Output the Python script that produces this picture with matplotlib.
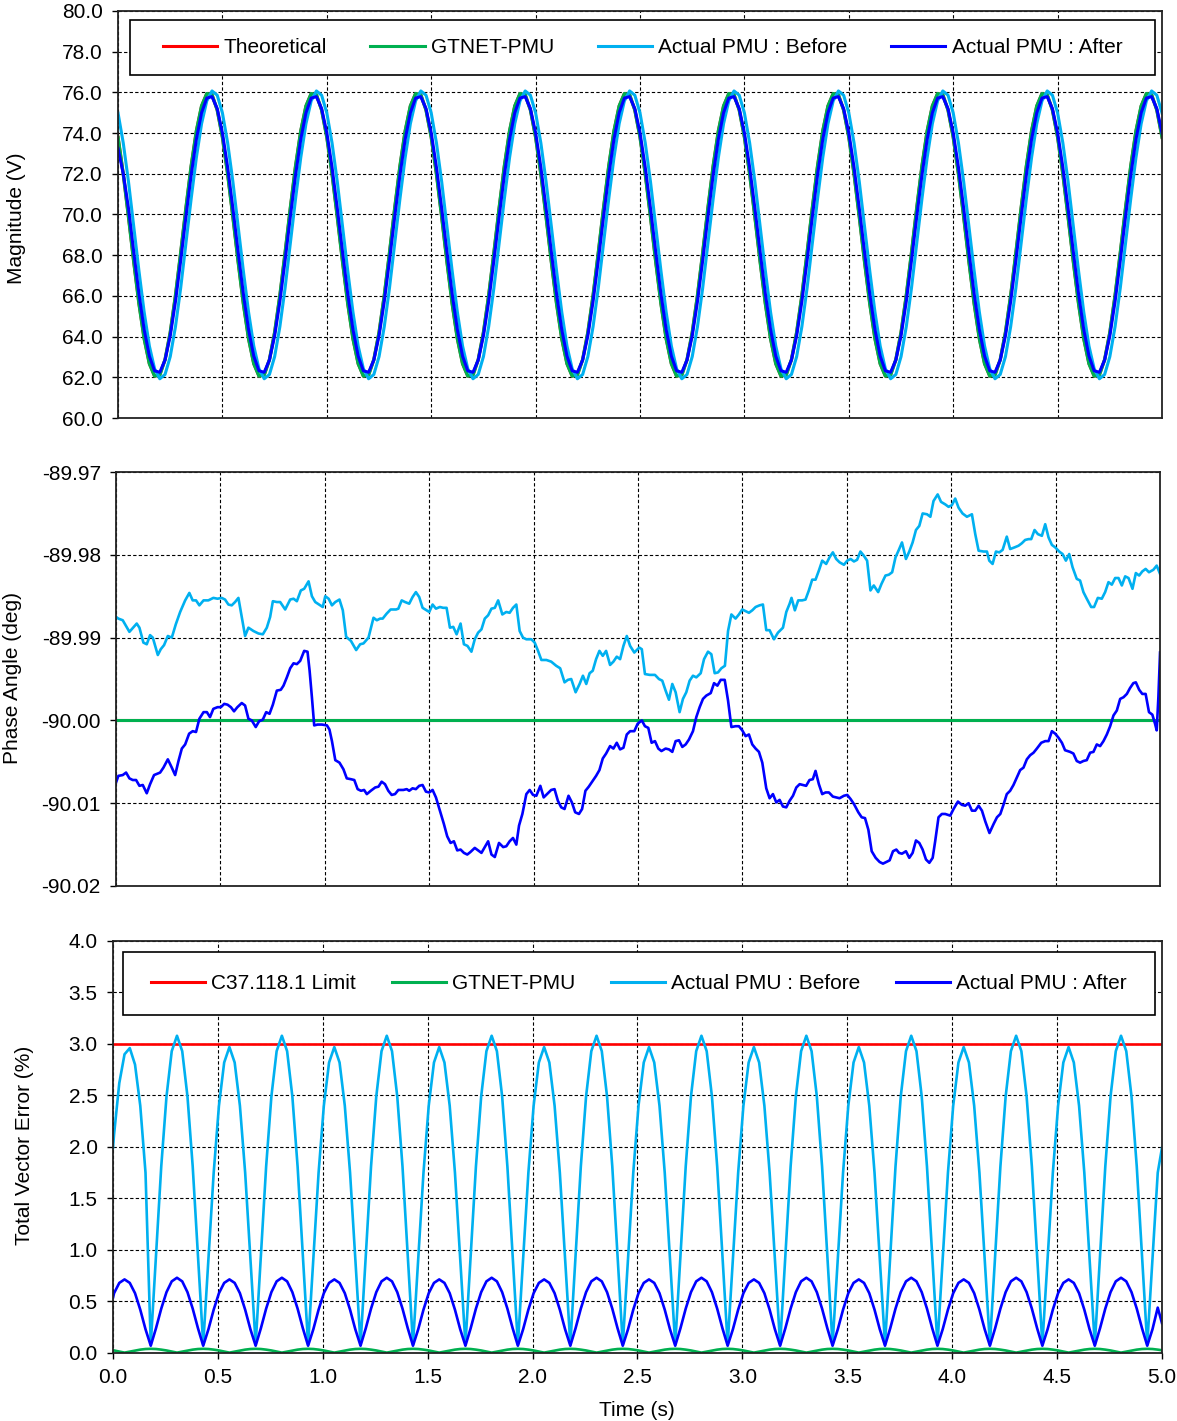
import numpy as np
import matplotlib
matplotlib.use("Agg")
import matplotlib.pyplot as plt
from matplotlib.patches import Rectangle
from matplotlib.lines import Line2D
from matplotlib.ticker import FormatStrFormatter

plt.rcParams['font.family'] = ['Liberation Sans', 'DejaVu Sans']
plt.rcParams['font.size'] = 15

RED = '#FF0000'
GREEN = '#00B050'
SKY = '#00B0F0'
BLUE = '#0000FF'

# ---------------- magnitude (V), read every 0.025 s ----------------
mag_time = np.linspace(0.0, 5.0, 201)
mag_gtnet = [
    73.79, 71.98, 69.88, 67.69, 65.63, 63.90, 62.67, 62.06, 62.12, 62.87, 64.21, 66.02, 68.12, 70.31, 72.37, 74.10, 75.33, 75.94, 75.88, 75.13,
    73.79, 71.98, 69.88, 67.69, 65.63, 63.90, 62.67, 62.06, 62.12, 62.87, 64.21, 66.02, 68.12, 70.31, 72.37, 74.10, 75.33, 75.94, 75.88, 75.13,
    73.79, 71.98, 69.88, 67.69, 65.63, 63.90, 62.67, 62.06, 62.12, 62.87, 64.21, 66.02, 68.12, 70.31, 72.37, 74.10, 75.33, 75.94, 75.88, 75.13,
    73.79, 71.98, 69.88, 67.69, 65.63, 63.90, 62.67, 62.06, 62.12, 62.87, 64.21, 66.02, 68.12, 70.31, 72.37, 74.10, 75.33, 75.94, 75.88, 75.13,
    73.79, 71.98, 69.88, 67.69, 65.63, 63.90, 62.67, 62.06, 62.12, 62.87, 64.21, 66.02, 68.12, 70.31, 72.37, 74.10, 75.33, 75.94, 75.88, 75.13,
    73.79, 71.98, 69.88, 67.69, 65.63, 63.90, 62.67, 62.06, 62.12, 62.87, 64.21, 66.02, 68.12, 70.31, 72.37, 74.10, 75.33, 75.94, 75.88, 75.13,
    73.79, 71.98, 69.88, 67.69, 65.63, 63.90, 62.67, 62.06, 62.12, 62.87, 64.21, 66.02, 68.12, 70.31, 72.37, 74.10, 75.33, 75.94, 75.88, 75.13,
    73.79, 71.98, 69.88, 67.69, 65.63, 63.90, 62.67, 62.06, 62.12, 62.87, 64.21, 66.02, 68.12, 70.31, 72.37, 74.10, 75.33, 75.94, 75.88, 75.13,
    73.79, 71.98, 69.88, 67.69, 65.63, 63.90, 62.67, 62.06, 62.12, 62.87, 64.21, 66.02, 68.12, 70.31, 72.37, 74.10, 75.33, 75.94, 75.88, 75.13,
    73.79, 71.98, 69.88, 67.69, 65.63, 63.90, 62.67, 62.06, 62.12, 62.87, 64.21, 66.02, 68.12, 70.31, 72.37, 74.10, 75.33, 75.94, 75.88, 75.13,
    73.79,
]
mag_theoretical = list(mag_gtnet)  # sits exactly under the green trace
mag_before = [
    74.98, 73.51, 71.61, 69.44, 67.24, 65.21, 63.54, 62.42, 61.93, 62.14, 63.02, 64.49, 66.39, 68.56, 70.76, 72.79, 74.46, 75.58, 76.07, 75.86,
    74.98, 73.51, 71.61, 69.44, 67.24, 65.21, 63.54, 62.42, 61.93, 62.14, 63.02, 64.49, 66.39, 68.56, 70.76, 72.79, 74.46, 75.58, 76.07, 75.86,
    74.98, 73.51, 71.61, 69.44, 67.24, 65.21, 63.54, 62.42, 61.93, 62.14, 63.02, 64.49, 66.39, 68.56, 70.76, 72.79, 74.46, 75.58, 76.07, 75.86,
    74.98, 73.51, 71.61, 69.44, 67.24, 65.21, 63.54, 62.42, 61.93, 62.14, 63.02, 64.49, 66.39, 68.56, 70.76, 72.79, 74.46, 75.58, 76.07, 75.86,
    74.98, 73.51, 71.61, 69.44, 67.24, 65.21, 63.54, 62.42, 61.93, 62.14, 63.02, 64.49, 66.39, 68.56, 70.76, 72.79, 74.46, 75.58, 76.07, 75.86,
    74.98, 73.51, 71.61, 69.44, 67.24, 65.21, 63.54, 62.42, 61.93, 62.14, 63.02, 64.49, 66.39, 68.56, 70.76, 72.79, 74.46, 75.58, 76.07, 75.86,
    74.98, 73.51, 71.61, 69.44, 67.24, 65.21, 63.54, 62.42, 61.93, 62.14, 63.02, 64.49, 66.39, 68.56, 70.76, 72.79, 74.46, 75.58, 76.07, 75.86,
    74.98, 73.51, 71.61, 69.44, 67.24, 65.21, 63.54, 62.42, 61.93, 62.14, 63.02, 64.49, 66.39, 68.56, 70.76, 72.79, 74.46, 75.58, 76.07, 75.86,
    74.98, 73.51, 71.61, 69.44, 67.24, 65.21, 63.54, 62.42, 61.93, 62.14, 63.02, 64.49, 66.39, 68.56, 70.76, 72.79, 74.46, 75.58, 76.07, 75.86,
    74.98, 73.51, 71.61, 69.44, 67.24, 65.21, 63.54, 62.42, 61.93, 62.14, 63.02, 64.49, 66.39, 68.56, 70.76, 72.79, 74.46, 75.58, 76.07, 75.86,
    74.98,
]
mag_after = [
    73.25, 72.00, 70.30, 68.17, 66.11, 64.35, 63.04, 62.32, 62.25, 62.85, 64.05, 65.73, 67.74, 69.88, 71.93, 73.69, 75.00, 75.72, 75.79, 75.20,
    74.00, 72.31, 70.30, 68.17, 66.11, 64.35, 63.04, 62.32, 62.25, 62.85, 64.05, 65.73, 67.74, 69.88, 71.93, 73.69, 75.00, 75.72, 75.79, 75.20,
    74.00, 72.31, 70.30, 68.17, 66.11, 64.35, 63.04, 62.32, 62.25, 62.85, 64.05, 65.73, 67.74, 69.88, 71.93, 73.69, 75.00, 75.72, 75.79, 75.20,
    74.00, 72.31, 70.30, 68.17, 66.11, 64.35, 63.04, 62.32, 62.25, 62.85, 64.05, 65.73, 67.74, 69.88, 71.93, 73.69, 75.00, 75.72, 75.79, 75.20,
    74.00, 72.31, 70.30, 68.17, 66.11, 64.35, 63.04, 62.32, 62.25, 62.85, 64.05, 65.73, 67.74, 69.88, 71.93, 73.69, 75.00, 75.72, 75.79, 75.20,
    74.00, 72.31, 70.30, 68.17, 66.11, 64.35, 63.04, 62.32, 62.25, 62.85, 64.05, 65.73, 67.74, 69.88, 71.93, 73.69, 75.00, 75.72, 75.79, 75.20,
    74.00, 72.31, 70.30, 68.17, 66.11, 64.35, 63.04, 62.32, 62.25, 62.85, 64.05, 65.73, 67.74, 69.88, 71.93, 73.69, 75.00, 75.72, 75.79, 75.20,
    74.00, 72.31, 70.30, 68.17, 66.11, 64.35, 63.04, 62.32, 62.25, 62.85, 64.05, 65.73, 67.74, 69.88, 71.93, 73.69, 75.00, 75.72, 75.79, 75.20,
    74.00, 72.31, 70.30, 68.17, 66.11, 64.35, 63.04, 62.32, 62.25, 62.85, 64.05, 65.73, 67.74, 69.88, 71.93, 73.69, 75.00, 75.72, 75.79, 75.20,
    74.00, 72.31, 70.30, 68.17, 66.11, 64.35, 63.04, 62.32, 62.25, 62.85, 64.05, 65.73, 67.74, 69.88, 71.93, 73.69, 75.00, 75.72, 75.79, 75.20,
    74.00,
]

# ---------------- phase angle (deg), (time, value) pairs ----------------
phase_ref_time = [0.0, 5.0]
phase_theoretical = [-90.0, -90.0]
phase_gtnet = [-90.0, -90.0]

phase_before_pts = [
    (0.000, -89.9875), (0.011, -89.9877), (0.032, -89.9879), (0.064, -89.9893), (0.099, -89.9883),
    (0.112, -89.9888), (0.131, -89.9906), (0.147, -89.9908), (0.163, -89.9897), (0.176, -89.9900),
    (0.200, -89.9921), (0.214, -89.9914), (0.230, -89.9909), (0.248, -89.9898), (0.267, -89.9900),
    (0.286, -89.9884), (0.307, -89.9869), (0.331, -89.9855), (0.351, -89.9846), (0.367, -89.9855),
    (0.383, -89.9855), (0.399, -89.9861), (0.419, -89.9855), (0.442, -89.9855), (0.466, -89.9852),
    (0.486, -89.9853), (0.506, -89.9852), (0.522, -89.9854), (0.538, -89.9860), (0.554, -89.9861),
    (0.570, -89.9857), (0.586, -89.9852), (0.602, -89.9875), (0.618, -89.9898), (0.634, -89.9888),
    (0.658, -89.9892), (0.682, -89.9895), (0.703, -89.9896), (0.722, -89.9888), (0.738, -89.9875),
    (0.751, -89.9856), (0.770, -89.9857), (0.786, -89.9857), (0.810, -89.9866), (0.834, -89.9854),
    (0.850, -89.9853), (0.866, -89.9856), (0.885, -89.9843), (0.901, -89.9841), (0.922, -89.9832),
    (0.938, -89.9850), (0.954, -89.9857), (0.978, -89.9861), (0.990, -89.9863), (1.002, -89.9850),
    (1.018, -89.9853), (1.034, -89.9861), (1.050, -89.9857), (1.070, -89.9854), (1.086, -89.9867),
    (1.102, -89.9899), (1.125, -89.9904), (1.150, -89.9915), (1.169, -89.9908), (1.185, -89.9907),
    (1.209, -89.9900), (1.233, -89.9876), (1.249, -89.9879), (1.265, -89.9877), (1.277, -89.9877),
    (1.296, -89.9871), (1.315, -89.9866), (1.341, -89.9866), (1.352, -89.9865), (1.368, -89.9855),
    (1.384, -89.9857), (1.404, -89.9859), (1.420, -89.9851), (1.436, -89.9845), (1.452, -89.9851),
    (1.468, -89.9864), (1.487, -89.9867), (1.500, -89.9869), (1.516, -89.9860), (1.532, -89.9865),
    (1.551, -89.9863), (1.567, -89.9864), (1.583, -89.9864), (1.599, -89.9888), (1.615, -89.9887),
    (1.631, -89.9896), (1.650, -89.9883), (1.666, -89.9908), (1.683, -89.9910), (1.702, -89.9917),
    (1.718, -89.9902), (1.734, -89.9894), (1.750, -89.9890), (1.766, -89.9877), (1.782, -89.9873),
    (1.798, -89.9865), (1.814, -89.9864), (1.830, -89.9855), (1.850, -89.9872), (1.869, -89.9869),
    (1.885, -89.9870), (1.901, -89.9864), (1.917, -89.9860), (1.933, -89.9892), (1.949, -89.9900),
    (1.965, -89.9902), (1.989, -89.9902), (2.005, -89.9906), (2.021, -89.9916), (2.037, -89.9927),
    (2.061, -89.9927), (2.084, -89.9929), (2.108, -89.9934), (2.127, -89.9937), (2.148, -89.9954),
    (2.164, -89.9951), (2.180, -89.9950), (2.201, -89.9966), (2.220, -89.9956), (2.236, -89.9946),
    (2.252, -89.9956), (2.268, -89.9943), (2.283, -89.9940), (2.299, -89.9926), (2.315, -89.9916),
    (2.331, -89.9922), (2.347, -89.9916), (2.366, -89.9933), (2.382, -89.9929), (2.398, -89.9923),
    (2.414, -89.9926), (2.430, -89.9910), (2.446, -89.9898), (2.462, -89.9910), (2.482, -89.9918),
    (2.506, -89.9912), (2.518, -89.9914), (2.533, -89.9944), (2.556, -89.9945), (2.581, -89.9945),
    (2.600, -89.9950), (2.616, -89.9952), (2.632, -89.9964), (2.648, -89.9975), (2.664, -89.9956),
    (2.680, -89.9966), (2.699, -89.9990), (2.715, -89.9974), (2.731, -89.9966), (2.747, -89.9952),
    (2.763, -89.9946), (2.779, -89.9948), (2.800, -89.9943), (2.816, -89.9926), (2.835, -89.9917),
    (2.851, -89.9920), (2.867, -89.9943), (2.883, -89.9942), (2.899, -89.9937), (2.916, -89.9934),
    (2.931, -89.9892), (2.947, -89.9872), (2.967, -89.9877), (2.983, -89.9872), (2.999, -89.9866),
    (3.015, -89.9868), (3.031, -89.9870), (3.047, -89.9867), (3.063, -89.9863), (3.082, -89.9861),
    (3.098, -89.9860), (3.114, -89.9891), (3.130, -89.9891), (3.151, -89.9902), (3.170, -89.9894),
    (3.194, -89.9888), (3.210, -89.9869), (3.226, -89.9859), (3.235, -89.9852), (3.251, -89.9867),
    (3.267, -89.9855), (3.286, -89.9855), (3.302, -89.9854), (3.318, -89.9843), (3.334, -89.9830),
    (3.350, -89.9830), (3.366, -89.9819), (3.382, -89.9807), (3.401, -89.9811), (3.417, -89.9803),
    (3.433, -89.9797), (3.449, -89.9805), (3.465, -89.9809), (3.486, -89.9812), (3.502, -89.9807),
    (3.518, -89.9805), (3.534, -89.9808), (3.549, -89.9806), (3.565, -89.9796), (3.581, -89.9801),
    (3.597, -89.9807), (3.613, -89.9843), (3.629, -89.9837), (3.650, -89.9845), (3.666, -89.9835),
    (3.685, -89.9825), (3.701, -89.9824), (3.717, -89.9821), (3.733, -89.9803), (3.749, -89.9794),
    (3.764, -89.9785), (3.783, -89.9805), (3.799, -89.9796), (3.815, -89.9785), (3.831, -89.9770),
    (3.847, -89.9765), (3.863, -89.9750), (3.884, -89.9751), (3.900, -89.9754), (3.915, -89.9735),
    (3.935, -89.9727), (3.951, -89.9736), (3.971, -89.9739), (3.987, -89.9742), (4.003, -89.9740),
    (4.019, -89.9732), (4.035, -89.9743), (4.054, -89.9750), (4.075, -89.9754), (4.099, -89.9751),
    (4.115, -89.9775), (4.131, -89.9795), (4.155, -89.9796), (4.171, -89.9796), (4.182, -89.9807),
    (4.198, -89.9811), (4.214, -89.9796), (4.230, -89.9797), (4.246, -89.9794), (4.266, -89.9778),
    (4.282, -89.9793), (4.303, -89.9791), (4.322, -89.9789), (4.338, -89.9786), (4.354, -89.9782),
    (4.370, -89.9781), (4.383, -89.9781), (4.399, -89.9770), (4.415, -89.9775), (4.434, -89.9777),
    (4.450, -89.9763), (4.466, -89.9779), (4.482, -89.9788), (4.498, -89.9791), (4.517, -89.9796),
    (4.533, -89.9799), (4.549, -89.9807), (4.565, -89.9799), (4.581, -89.9815), (4.601, -89.9829),
    (4.617, -89.9831), (4.633, -89.9845), (4.649, -89.9853), (4.670, -89.9863), (4.684, -89.9863),
    (4.702, -89.9852), (4.721, -89.9853), (4.737, -89.9845), (4.753, -89.9833), (4.769, -89.9836),
    (4.785, -89.9828), (4.801, -89.9828), (4.817, -89.9837), (4.833, -89.9826), (4.849, -89.9828),
    (4.868, -89.9841), (4.884, -89.9822), (4.900, -89.9825), (4.915, -89.9820), (4.931, -89.9817),
    (4.947, -89.9821), (4.968, -89.9818), (4.984, -89.9813), (5.000, -89.9823),
]

phase_after_pts = [
    (0.000, -90.0075), (0.011, -90.0067), (0.032, -90.0066), (0.048, -90.0063), (0.064, -90.0070),
    (0.080, -90.0072), (0.096, -90.0072), (0.112, -90.0079), (0.128, -90.0078), (0.147, -90.0088),
    (0.163, -90.0077), (0.182, -90.0066), (0.211, -90.0063), (0.227, -90.0057), (0.248, -90.0047),
    (0.267, -90.0057), (0.283, -90.0066), (0.299, -90.0049), (0.315, -90.0034), (0.331, -90.0029),
    (0.350, -90.0016), (0.367, -90.0013), (0.383, -90.0014), (0.399, -89.9998), (0.419, -89.9990),
    (0.435, -89.9990), (0.450, -89.9996), (0.466, -89.9986), (0.486, -89.9984), (0.502, -89.9984),
    (0.518, -89.9980), (0.534, -89.9981), (0.550, -89.9984), (0.565, -89.9989), (0.581, -89.9984),
    (0.602, -89.9979), (0.618, -89.9982), (0.634, -89.9998), (0.650, -90.0000), (0.669, -90.0008),
    (0.685, -90.0001), (0.703, -89.9999), (0.719, -89.9990), (0.735, -89.9992), (0.751, -89.9981),
    (0.770, -89.9964), (0.789, -89.9963), (0.802, -89.9958), (0.818, -89.9948), (0.834, -89.9937),
    (0.850, -89.9931), (0.866, -89.9932), (0.882, -89.9928), (0.901, -89.9916), (0.917, -89.9917),
    (0.927, -89.9940), (0.938, -89.9972), (0.949, -90.0006), (0.965, -90.0005), (0.986, -90.0005),
    (1.010, -90.0006), (1.022, -90.0011), (1.034, -90.0025), (1.050, -90.0048), (1.070, -90.0051),
    (1.089, -90.0059), (1.105, -90.0070), (1.125, -90.0071), (1.141, -90.0072), (1.157, -90.0083),
    (1.173, -90.0085), (1.188, -90.0084), (1.201, -90.0089), (1.220, -90.0085), (1.241, -90.0081),
    (1.257, -90.0080), (1.272, -90.0074), (1.288, -90.0077), (1.304, -90.0085), (1.320, -90.0090),
    (1.336, -90.0089), (1.352, -90.0084), (1.376, -90.0084), (1.392, -90.0083), (1.404, -90.0085),
    (1.420, -90.0082), (1.436, -90.0083), (1.452, -90.0079), (1.468, -90.0078), (1.484, -90.0086),
    (1.500, -90.0087), (1.516, -90.0084), (1.532, -90.0093), (1.551, -90.0109), (1.570, -90.0125),
    (1.586, -90.0140), (1.602, -90.0148), (1.618, -90.0146), (1.634, -90.0157), (1.650, -90.0156),
    (1.666, -90.0160), (1.682, -90.0162), (1.697, -90.0159), (1.718, -90.0154), (1.734, -90.0157),
    (1.750, -90.0160), (1.766, -90.0153), (1.782, -90.0146), (1.798, -90.0162), (1.814, -90.0165),
    (1.834, -90.0148), (1.854, -90.0153), (1.869, -90.0152), (1.885, -90.0146), (1.901, -90.0142),
    (1.917, -90.0150), (1.930, -90.0127), (1.946, -90.0113), (1.965, -90.0089), (1.981, -90.0084),
    (1.997, -90.0090), (2.013, -90.0091), (2.032, -90.0079), (2.048, -90.0093), (2.064, -90.0089),
    (2.084, -90.0084), (2.100, -90.0083), (2.116, -90.0097), (2.132, -90.0105), (2.148, -90.0107),
    (2.167, -90.0091), (2.183, -90.0099), (2.199, -90.0111), (2.217, -90.0113), (2.232, -90.0107),
    (2.248, -90.0085), (2.264, -90.0080), (2.283, -90.0073), (2.299, -90.0067), (2.315, -90.0060),
    (2.331, -90.0046), (2.347, -90.0040), (2.366, -90.0031), (2.382, -90.0034), (2.398, -90.0027),
    (2.414, -90.0035), (2.430, -90.0033), (2.446, -90.0017), (2.462, -90.0013), (2.482, -90.0013),
    (2.498, -90.0004), (2.518, -90.0000), (2.533, -90.0007), (2.549, -90.0009), (2.565, -90.0027),
    (2.581, -90.0025), (2.597, -90.0034), (2.612, -90.0037), (2.632, -90.0034), (2.648, -90.0035),
    (2.664, -90.0038), (2.680, -90.0025), (2.696, -90.0024), (2.712, -90.0032), (2.728, -90.0029),
    (2.744, -90.0023), (2.763, -90.0013), (2.779, -89.9996), (2.795, -89.9984), (2.811, -89.9974),
    (2.827, -89.9970), (2.848, -89.9967), (2.864, -89.9955), (2.880, -89.9958), (2.896, -89.9951),
    (2.915, -89.9951), (2.931, -89.9976), (2.947, -90.0008), (2.967, -90.0007), (2.983, -90.0007),
    (2.999, -90.0012), (3.015, -90.0019), (3.031, -90.0017), (3.047, -90.0029), (3.063, -90.0034),
    (3.079, -90.0038), (3.095, -90.0051), (3.114, -90.0082), (3.130, -90.0094), (3.146, -90.0089),
    (3.162, -90.0099), (3.178, -90.0096), (3.194, -90.0104), (3.210, -90.0105), (3.226, -90.0097),
    (3.242, -90.0091), (3.258, -90.0081), (3.274, -90.0077), (3.289, -90.0078), (3.305, -90.0079),
    (3.321, -90.0072), (3.337, -90.0071), (3.350, -90.0061), (3.366, -90.0077), (3.382, -90.0089),
    (3.398, -90.0087), (3.414, -90.0087), (3.433, -90.0092), (3.449, -90.0093), (3.465, -90.0094),
    (3.486, -90.0091), (3.502, -90.0090), (3.518, -90.0095), (3.534, -90.0101), (3.555, -90.0111),
    (3.571, -90.0117), (3.587, -90.0118), (3.603, -90.0132), (3.619, -90.0158), (3.638, -90.0166),
    (3.657, -90.0171), (3.673, -90.0173), (3.689, -90.0171), (3.705, -90.0169), (3.721, -90.0158),
    (3.737, -90.0156), (3.750, -90.0160), (3.764, -90.0161), (3.783, -90.0158), (3.799, -90.0166),
    (3.815, -90.0160), (3.831, -90.0145), (3.847, -90.0148), (3.863, -90.0156), (3.879, -90.0168),
    (3.895, -90.0172), (3.911, -90.0166), (3.923, -90.0146), (3.939, -90.0117), (3.955, -90.0113),
    (3.971, -90.0113), (3.995, -90.0115), (4.011, -90.0107), (4.032, -90.0098), (4.051, -90.0102),
    (4.067, -90.0103), (4.083, -90.0100), (4.099, -90.0109), (4.115, -90.0109), (4.131, -90.0103),
    (4.147, -90.0109), (4.163, -90.0122), (4.183, -90.0136), (4.203, -90.0125), (4.219, -90.0117),
    (4.235, -90.0113), (4.250, -90.0102), (4.266, -90.0089), (4.282, -90.0085), (4.298, -90.0078),
    (4.314, -90.0069), (4.330, -90.0060), (4.346, -90.0057), (4.362, -90.0047), (4.378, -90.0042),
    (4.394, -90.0039), (4.410, -90.0034), (4.431, -90.0027), (4.450, -90.0025), (4.466, -90.0025),
    (4.482, -90.0013), (4.498, -90.0016), (4.514, -90.0021), (4.530, -90.0027), (4.545, -90.0036),
    (4.569, -90.0038), (4.585, -90.0040), (4.601, -90.0049), (4.617, -90.0051), (4.633, -90.0049),
    (4.649, -90.0048), (4.665, -90.0039), (4.681, -90.0038), (4.697, -90.0029), (4.713, -90.0031),
    (4.729, -90.0025), (4.745, -90.0017), (4.761, -90.0007), (4.777, -89.9994), (4.793, -89.9988),
    (4.809, -89.9974), (4.825, -89.9972), (4.841, -89.9968), (4.856, -89.9961), (4.872, -89.9955),
    (4.884, -89.9954), (4.900, -89.9963), (4.915, -89.9968), (4.931, -89.9968), (4.947, -89.9990),
    (4.963, -89.9993), (4.976, -90.0004), (4.984, -90.0012), (4.992, -89.9972), (5.000, -89.9918),
]

# ---------------- total vector error (%) ----------------
# samples at t = 0, 0.005, 0.030, ... 4.980 (0.025 s apart) and 5.0
tve_time = np.concatenate(([0.0], 0.005 + 0.025 * np.arange(200), [5.0]))
tve_limit_time = [0.0, 5.0]
tve_limit = [3.0, 3.0]
tve_before = [
    1.99, 2.12, 2.62, 2.90, 2.96, 2.80, 2.40, 1.75,
    0.08, 0.95, 1.81, 2.49, 2.93, 3.08, 2.93, 2.49, 1.81, 0.95,
    0.08, 0.92, 1.75, 2.40, 2.82, 2.97, 2.82, 2.40, 1.75, 0.92,
    0.08, 0.95, 1.81, 2.49, 2.93, 3.08, 2.93, 2.49, 1.81, 0.95,
    0.08, 0.92, 1.75, 2.40, 2.82, 2.97, 2.82, 2.40, 1.75, 0.92,
    0.08, 0.95, 1.81, 2.49, 2.93, 3.08, 2.93, 2.49, 1.81, 0.95,
    0.08, 0.92, 1.75, 2.40, 2.82, 2.97, 2.82, 2.40, 1.75, 0.92,
    0.08, 0.95, 1.81, 2.49, 2.93, 3.08, 2.93, 2.49, 1.81, 0.95,
    0.08, 0.92, 1.75, 2.40, 2.82, 2.97, 2.82, 2.40, 1.75, 0.92,
    0.08, 0.95, 1.81, 2.49, 2.93, 3.08, 2.93, 2.49, 1.81, 0.95,
    0.08, 0.92, 1.75, 2.40, 2.82, 2.97, 2.82, 2.40, 1.75, 0.92,
    0.08, 0.95, 1.81, 2.49, 2.93, 3.08, 2.93, 2.49, 1.81, 0.95,
    0.08, 0.92, 1.75, 2.40, 2.82, 2.97, 2.82, 2.40, 1.75, 0.92,
    0.08, 0.95, 1.81, 2.49, 2.93, 3.08, 2.93, 2.49, 1.81, 0.95,
    0.08, 0.92, 1.75, 2.40, 2.82, 2.97, 2.82, 2.40, 1.75, 0.92,
    0.08, 0.95, 1.81, 2.49, 2.93, 3.08, 2.93, 2.49, 1.81, 0.95,
    0.08, 0.92, 1.75, 2.40, 2.82, 2.97, 2.82, 2.40, 1.75, 0.92,
    0.08, 0.95, 1.81, 2.49, 2.93, 3.08, 2.93, 2.49, 1.81, 0.95,
    0.08, 0.92, 1.75, 2.40, 2.82, 2.97, 2.82, 2.40, 1.75, 0.92,
    0.08, 0.95, 1.81, 2.49, 2.93, 3.08, 2.93, 2.49, 1.81, 0.95,
    0.08, 0.92, 1.75, 1.99,
]
tve_after = [
    0.535, 0.58, 0.68, 0.714, 0.68, 0.58, 0.42, 0.23,
    0.07, 0.24, 0.43, 0.59, 0.695, 0.73, 0.695, 0.59, 0.43, 0.24,
    0.07, 0.23, 0.42, 0.58, 0.68, 0.714, 0.68, 0.58, 0.42, 0.23,
    0.07, 0.24, 0.43, 0.59, 0.695, 0.73, 0.695, 0.59, 0.43, 0.24,
    0.07, 0.23, 0.42, 0.58, 0.68, 0.714, 0.68, 0.58, 0.42, 0.23,
    0.07, 0.24, 0.43, 0.59, 0.695, 0.73, 0.695, 0.59, 0.43, 0.24,
    0.07, 0.23, 0.42, 0.58, 0.68, 0.714, 0.68, 0.58, 0.42, 0.23,
    0.07, 0.24, 0.43, 0.59, 0.695, 0.73, 0.695, 0.59, 0.43, 0.24,
    0.07, 0.23, 0.42, 0.58, 0.68, 0.714, 0.68, 0.58, 0.42, 0.23,
    0.07, 0.24, 0.43, 0.59, 0.695, 0.73, 0.695, 0.59, 0.43, 0.24,
    0.07, 0.23, 0.42, 0.58, 0.68, 0.714, 0.68, 0.58, 0.42, 0.23,
    0.07, 0.24, 0.43, 0.59, 0.695, 0.73, 0.695, 0.59, 0.43, 0.24,
    0.07, 0.23, 0.42, 0.58, 0.68, 0.714, 0.68, 0.58, 0.42, 0.23,
    0.07, 0.24, 0.43, 0.59, 0.695, 0.73, 0.695, 0.59, 0.43, 0.24,
    0.07, 0.23, 0.42, 0.58, 0.68, 0.714, 0.68, 0.58, 0.42, 0.23,
    0.07, 0.24, 0.43, 0.59, 0.695, 0.73, 0.695, 0.59, 0.43, 0.24,
    0.07, 0.23, 0.42, 0.58, 0.68, 0.714, 0.68, 0.58, 0.42, 0.23,
    0.07, 0.24, 0.43, 0.59, 0.695, 0.73, 0.695, 0.59, 0.43, 0.24,
    0.07, 0.23, 0.42, 0.58, 0.68, 0.714, 0.68, 0.58, 0.42, 0.23,
    0.07, 0.24, 0.43, 0.59, 0.695, 0.73, 0.695, 0.59, 0.43, 0.24,
    0.07, 0.23, 0.44, 0.29,
]
tve_gtnet = [
    0.026, 0.024, 0.013, 0.003, 0.013, 0.024, 0.032, 0.038,
    0.040, 0.038, 0.032, 0.024, 0.013, 0.003, 0.013, 0.024, 0.032, 0.038,
    0.040, 0.038, 0.032, 0.024, 0.013, 0.003, 0.013, 0.024, 0.032, 0.038,
    0.040, 0.038, 0.032, 0.024, 0.013, 0.003, 0.013, 0.024, 0.032, 0.038,
    0.040, 0.038, 0.032, 0.024, 0.013, 0.003, 0.013, 0.024, 0.032, 0.038,
    0.040, 0.038, 0.032, 0.024, 0.013, 0.003, 0.013, 0.024, 0.032, 0.038,
    0.040, 0.038, 0.032, 0.024, 0.013, 0.003, 0.013, 0.024, 0.032, 0.038,
    0.040, 0.038, 0.032, 0.024, 0.013, 0.003, 0.013, 0.024, 0.032, 0.038,
    0.040, 0.038, 0.032, 0.024, 0.013, 0.003, 0.013, 0.024, 0.032, 0.038,
    0.040, 0.038, 0.032, 0.024, 0.013, 0.003, 0.013, 0.024, 0.032, 0.038,
    0.040, 0.038, 0.032, 0.024, 0.013, 0.003, 0.013, 0.024, 0.032, 0.038,
    0.040, 0.038, 0.032, 0.024, 0.013, 0.003, 0.013, 0.024, 0.032, 0.038,
    0.040, 0.038, 0.032, 0.024, 0.013, 0.003, 0.013, 0.024, 0.032, 0.038,
    0.040, 0.038, 0.032, 0.024, 0.013, 0.003, 0.013, 0.024, 0.032, 0.038,
    0.040, 0.038, 0.032, 0.024, 0.013, 0.003, 0.013, 0.024, 0.032, 0.038,
    0.040, 0.038, 0.032, 0.024, 0.013, 0.003, 0.013, 0.024, 0.032, 0.038,
    0.040, 0.038, 0.032, 0.024, 0.013, 0.003, 0.013, 0.024, 0.032, 0.038,
    0.040, 0.038, 0.032, 0.024, 0.013, 0.003, 0.013, 0.024, 0.032, 0.038,
    0.040, 0.038, 0.032, 0.024, 0.013, 0.003, 0.013, 0.024, 0.032, 0.038,
    0.040, 0.038, 0.032, 0.024, 0.013, 0.003, 0.013, 0.024, 0.032, 0.038,
    0.040, 0.038, 0.032, 0.026,
]

mag_labels = ['Theoretical', 'GTNET-PMU', 'Actual PMU : Before', 'Actual PMU : After']
tve_labels = ['C37.118.1 Limit', 'GTNET-PMU', 'Actual PMU : Before', 'Actual PMU : After']
time_ticks = np.arange(0.0, 5.01, 0.5)


def style_axes(ax, ylim, yticks, fmt, show_x):
    ax.set_xlim(0.0, 5.0)
    ax.set_ylim(*ylim)
    ax.set_yticks(yticks)
    ax.set_xticks(time_ticks)
    ax.yaxis.set_major_formatter(FormatStrFormatter(fmt))
    ax.xaxis.set_major_formatter(FormatStrFormatter('%.1f'))
    ax.grid(True, color='black', linestyle=(0, (3, 2)), linewidth=0.8)
    for sp in ax.spines.values():
        sp.set_linewidth(1.3)
        sp.set_color('#222222')
    ax.tick_params(axis='y', direction='out', length=4, width=1, pad=7, labelsize=15)
    if show_x:
        ax.tick_params(axis='x', direction='out', length=4, width=1, pad=7, labelsize=15)
    else:
        ax.tick_params(axis='x', length=0, labelbottom=False)


def boxed_legend(ax, colors, labels, box, spacing):
    x0, y0, w, h = box
    ax.add_patch(Rectangle((x0, y0), w, h, transform=ax.transAxes, facecolor='white',
                           edgecolor='black', linewidth=1.2, zorder=5))
    handles = [Line2D([], [], color=c, linewidth=2.2) for c in colors]
    leg = ax.legend(handles, labels, loc='center', bbox_to_anchor=(x0 + w / 2, y0 + h / 2),
                    ncol=4, frameon=False, handlelength=2.6, handletextpad=0.3,
                    columnspacing=spacing, fontsize=15, borderpad=0.2)
    leg.set_zorder(6)


fig = plt.figure(figsize=(11.77, 14.21), dpi=100)
ax1 = fig.add_axes([0.1003, 0.7058, 0.8870, 0.2865])
ax2 = fig.add_axes([0.0986, 0.3765, 0.8870, 0.2913])
ax3 = fig.add_axes([0.0960, 0.0479, 0.8912, 0.2899])

# top: magnitude
ax1.plot(mag_time, mag_theoretical, color=RED, linewidth=2.2)
ax1.plot(mag_time, mag_gtnet, color=GREEN, linewidth=2.4)
ax1.plot(mag_time, mag_before, color=SKY, linewidth=2.2)
ax1.plot(mag_time, mag_after, color=BLUE, linewidth=2.2)
style_axes(ax1, (60.0, 80.0), np.arange(60.0, 80.1, 2.0), '%.1f', False)
boxed_legend(ax1, [RED, GREEN, SKY, BLUE], mag_labels, (0.0115, 0.843, 0.9818, 0.135), 2.1)

# middle: phase angle
pb_t, pb_v = np.array(phase_before_pts).T
pa_t, pa_v = np.array(phase_after_pts).T
ax2.plot(phase_ref_time, phase_theoretical, color=RED, linewidth=2.2)
ax2.plot(phase_ref_time, phase_gtnet, color=GREEN, linewidth=2.2)
ax2.plot(pb_t, pb_v, color=SKY, linewidth=1.9)
ax2.plot(pa_t, pa_v, color=BLUE, linewidth=1.9)
style_axes(ax2, (-90.02, -89.97), [-90.02, -90.01, -90.00, -89.99, -89.98, -89.97], '%.2f', False)

# bottom: TVE
ax3.plot(tve_limit_time, tve_limit, color=RED, linewidth=1.9)
ax3.plot(tve_time, tve_gtnet, color=GREEN, linewidth=1.9)
ax3.plot(tve_time, tve_before, color=SKY, linewidth=1.9)
ax3.plot(tve_time, tve_after, color=BLUE, linewidth=1.9)
style_axes(ax3, (0.0, 4.0), np.arange(0.0, 4.01, 0.5), '%.1f', True)
boxed_legend(ax3, [RED, GREEN, SKY, BLUE], tve_labels, (0.0095, 0.8204, 0.9838, 0.1529), 1.7)

fig.text(0.0144, 0.8466, 'Magnitude (V)', rotation=90, ha='center', va='center', fontsize=15)
fig.text(0.0102, 0.5229, 'Phase Angle (deg)', rotation=90, ha='center', va='center', fontsize=15)
fig.text(0.0212, 0.1942, 'Total Vector Error (%)', rotation=90, ha='center', va='center', fontsize=15)
fig.text(0.541, 0.0077, 'Time (s)', ha='center', va='center', fontsize=15)

fig.savefig('out.png', dpi=100)
